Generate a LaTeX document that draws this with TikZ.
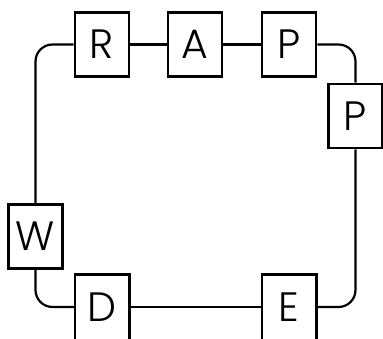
\documentclass[tikz,border=0pt]{standalone}
\usepackage{fontspec}
\setmainfont{Poppins}[UprightFont=* Light]
\begin{document}
\begin{tikzpicture}[x=1pt,y=-1pt,
  box/.style={draw=black,line width=2.6pt,minimum width=54pt,minimum height=64pt,inner sep=0pt,font=\fontsize{41}{41}\selectfont,fill=white},
  openbox/.style={draw=none,minimum width=54pt,minimum height=64pt,inner sep=0pt,font=\fontsize{41}{41}\selectfont},
  link/.style={line width=2.2pt,rounded corners=17pt}]
\useasboundingbox (0,0) rectangle (383,339);
\clip (0,0) rectangle (383,339);
\node[box] (R) at (102,44.5) {R};
\node[box] (A) at (195,44.5) {A};
\node[box] (P1) at (289,44.5) {P};
\node[box] (P2) at (355.5,116) {P};
\node[box] (W) at (35.5,236.5) {W};
\node[openbox] (D) at (102,307) {D};
\node[openbox] (E) at (289,307) {E};
\draw[link] (W.north) |- (R.west);
\draw[link] (R.east) -- (A.west);
\draw[link] (A.east) -- (P1.west);
\draw[link] (P1.east) -| (P2.north);
\draw[link] (P2.south) |- (E.east);
\draw[link] (D.east) -- (E.west);
\draw[link] (W.south) |- (D.west);
\draw[line width=2.6pt,line join=miter] (D.south west) -- (D.north west) -- (D.north east) -- (D.south east);
\draw[line width=2.6pt,line join=miter] (E.south west) -- (E.north west) -- (E.north east) -- (E.south east);
\end{tikzpicture}
\end{document}
